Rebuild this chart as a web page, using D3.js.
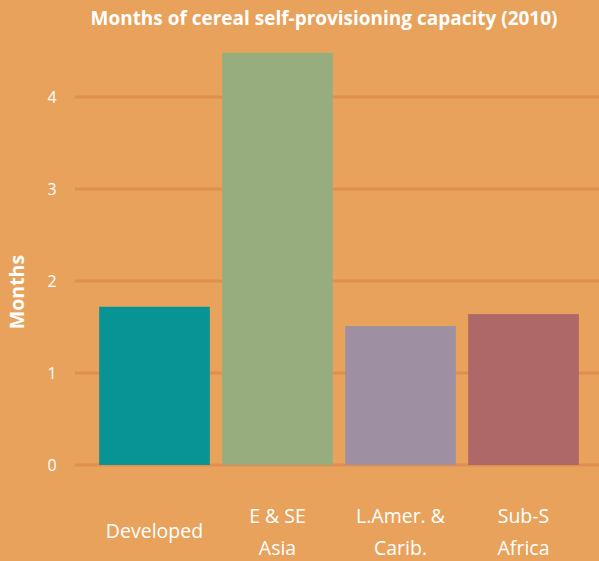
<!DOCTYPE html>
<html>
<head>
<meta charset="utf-8">
<script src="https://cdn.jsdelivr.net/npm/d3@7"></script>
<style>
  html, body { margin: 0; padding: 0; background: #E8A25C; }
  svg { display: block; }
</style>
</head>
<body>
<svg id="chart" width="599" height="561"></svg>
<script>
const categories = ["Developed", "E & SE Asia", "L.Amer. & Carib.", "Sub-S Africa"];
const labelLines = [["Developed"], ["E & SE", "Asia"], ["L.Amer. &", "Carib."], ["Sub-S", "Africa"]];
const values = [1.72, 4.48, 1.51, 1.64];
const colors = ["#089494", "#97AD7D", "#9E8FA3", "#AE6867"];
const yTicks = [0, 1, 2, 3, 4];
const titleText = "Months of cereal self-provisioning capacity (2010)";
const yLabel = "Months";

const svg = d3.select("#chart");
const W = 599, H = 561;
svg.append("rect").attr("width", W).attr("height", H).attr("fill", "#E8A25C");

const x = d3.scaleBand().domain(categories).range([93, 585]).paddingInner(0.1).paddingOuter(0.05);
const y = d3.scaleLinear().domain([0, 4.5]).range([465, 51]);

// gridlines
svg.append("g").selectAll("line").data(yTicks).join("line")
  .attr("x1", 75).attr("x2", W)
  .attr("y1", d => y(d)).attr("y2", d => y(d))
  .attr("stroke", "#E28E50").attr("stroke-width", 3);

// bars
svg.append("g").selectAll("rect").data(values).join("rect")
  .attr("x", (d, i) => x(categories[i]))
  .attr("width", x.bandwidth())
  .attr("y", d => y(d))
  .attr("height", d => y(0) - y(d))
  .attr("fill", (d, i) => colors[i]);

// y axis tick labels
const yAxis = d3.axisLeft(y).tickValues(yTicks).tickSize(0).tickPadding(0).tickFormat(d3.format("d"));
const gy = svg.append("g").attr("transform", "translate(52,0)").call(yAxis);
gy.select(".domain").remove();
gy.selectAll("text")
  .attr("text-anchor", "middle")
  .attr("fill", "#fff")
  .style("font-family", "'Open Sans', sans-serif")
  .style("font-size", "16px");

// x labels
const xl = svg.append("g");
categories.forEach((c, i) => {
  const lines = labelLines[i];
  const cx = x(c) + x.bandwidth() / 2;
  const base = lines.length === 1 ? 538 : 523;
  const t = xl.append("text")
    .attr("text-anchor", "middle")
    .attr("fill", "#fff")
    .style("font-family", "'Open Sans', sans-serif")
    .style("font-size", "19.5px");
  lines.forEach((ln, j) => {
    t.append("tspan").attr("x", cx).attr("y", base + j * 32).text(ln);
  });
});

// title
svg.append("text")
  .attr("x", 324).attr("y", 25)
  .attr("text-anchor", "middle")
  .attr("fill", "#fff")
  .attr("textLength", 467).attr("lengthAdjust", "spacingAndGlyphs")
  .style("font-family", "'Open Sans', sans-serif")
  .style("font-weight", "bold")
  .style("font-size", "20px")
  .text(titleText);

// y label
svg.append("text")
  .attr("transform", "translate(24,292) rotate(-90)")
  .attr("text-anchor", "middle")
  .attr("fill", "#fff")
  .style("font-family", "'Open Sans', sans-serif")
  .style("font-weight", "bold")
  .style("font-size", "19.5px")
  .text(yLabel);
</script>
</body>
</html>
